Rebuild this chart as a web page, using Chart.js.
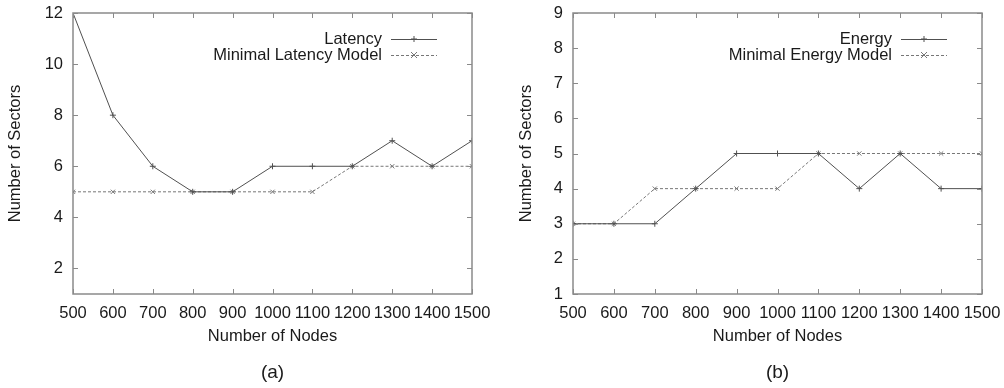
<!DOCTYPE html>
<html>
<head>
<meta charset="utf-8">
<script src="https://cdn.jsdelivr.net/npm/chart.js@4"></script>
<style>
  body { margin: 0; background: #fff; }
  .wrap { position: absolute; top: 0; height: 388px; }
</style>
</head>
<body>
<div class="wrap" style="left:0;width:500px"><canvas id="chartA" width="500" height="388"></canvas></div>
<div class="wrap" style="left:500px;width:504px"><canvas id="chartB" width="504" height="388"></canvas></div>
<script>
// --- data ---
const nodes = [500, 600, 700, 800, 900, 1000, 1100, 1200, 1300, 1400, 1500];
const latency = [12, 8, 6, 5, 5, 6, 6, 6, 7, 6, 7];
const minLatencyModel = [5, 5, 5, 5, 5, 5, 5, 6, 6, 6, 6];
const energy = [3, 3, 3, 4, 5, 5, 5, 4, 5, 4, 4];
const minEnergyModel = [3, 3, 4, 4, 4, 4, 5, 5, 5, 5, 5];
const yTicksA = [2, 4, 6, 8, 10, 12];
const yTicksB = [1, 2, 3, 4, 5, 6, 7, 8, 9];

const FONT = 'Liberation Sans, Arial, Helvetica, sans-serif';
const FS = 16.5;
const TEXT = '#1a1a1a';
const FRAME = '#8a8a8a';

const pts = ys => nodes.map((x, i) => ({ x: x, y: ys[i] }));

// gnuplot-like frame with inward ticks, legend (text left of the sample) and caption
const gnuplotFrame = {
    id: 'gnuplotFrame',
    afterDatasetsDraw(chart, args, opts) {
        const { ctx, chartArea: a, scales } = chart;
        const tl = 5;
        ctx.save();
        ctx.strokeStyle = FRAME;
        ctx.lineWidth = 1.5;
        ctx.strokeRect(a.left, a.top, a.right - a.left, a.bottom - a.top);
        ctx.lineWidth = 1;
        ctx.beginPath();
        scales.x.ticks.forEach(t => {
            const px = Math.round(scales.x.getPixelForValue(t.value)) + 0.5;
            ctx.moveTo(px, a.bottom); ctx.lineTo(px, a.bottom - tl);
            ctx.moveTo(px, a.top); ctx.lineTo(px, a.top + tl);
        });
        scales.y.ticks.forEach(t => {
            const py = Math.round(scales.y.getPixelForValue(t.value)) + 0.5;
            ctx.moveTo(a.left, py); ctx.lineTo(a.left + tl, py);
            ctx.moveTo(a.right, py); ctx.lineTo(a.right - tl, py);
        });
        ctx.stroke();

        // legend
        ctx.font = FS + 'px ' + FONT;
        ctx.textAlign = 'right';
        ctx.textBaseline = 'middle';
        chart.data.datasets.forEach((ds, i) => {
            const y = a.top + 26 + i * 16;
            ctx.fillStyle = TEXT;
            ctx.fillText(ds.label, a.right - 90, y);
            ctx.strokeStyle = ds.borderColor;
            ctx.lineWidth = 1;
            ctx.setLineDash(ds.borderDash || []);
            ctx.beginPath();
            ctx.moveTo(a.right - 81, y + 0.5);
            ctx.lineTo(a.right - 35, y + 0.5);
            ctx.stroke();
            ctx.setLineDash([]);
            const mx = a.right - 58, r = 3;
            ctx.beginPath();
            if (ds.pointStyle === 'cross') {
                ctx.moveTo(mx, y - r); ctx.lineTo(mx, y + r);
                ctx.moveTo(mx - r, y); ctx.lineTo(mx + r, y);
            } else {
                ctx.moveTo(mx - r, y - r); ctx.lineTo(mx + r, y + r);
                ctx.moveTo(mx - r, y + r); ctx.lineTo(mx + r, y - r);
            }
            ctx.stroke();
        });

        // caption under the plot, centred on the plot area
        ctx.textAlign = 'center';
        ctx.font = '19px ' + FONT;
        ctx.fillStyle = TEXT;
        ctx.fillText(opts.caption, (a.left + a.right) / 2, 373);
        ctx.restore();
    }
};

function makeChart(id, series, labels, yMin, yMax, yTicks, caption, yTitlePad, rightPad) {
    new Chart(document.getElementById(id), {
        type: 'line',
        data: {
            datasets: [
                {
                    label: labels[0],
                    data: pts(series[0]),
                    borderColor: '#505050',
                    borderWidth: 1,
                    pointStyle: 'cross',
                    pointRadius: 3,
                    pointBorderColor: '#505050',
                    pointBorderWidth: 1,
                    tension: 0
                },
                {
                    label: labels[1],
                    data: pts(series[1]),
                    borderColor: '#777777',
                    borderWidth: 1,
                    borderDash: [3, 2],
                    pointStyle: 'crossRot',
                    pointRadius: 3,
                    pointBorderColor: '#777777',
                    pointBorderWidth: 1,
                    tension: 0
                }
            ]
        },
        options: {
            responsive: false,
            animation: false,
            layout: { padding: { top: 13, right: rightPad, left: 0, bottom: 0 } },
            plugins: {
                legend: { display: false },
                tooltip: { enabled: false },
                gnuplotFrame: { caption: caption }
            },
            scales: {
                x: {
                    type: 'linear',
                    min: 500,
                    max: 1500,
                    afterBuildTicks: s => { s.ticks = nodes.map(v => ({ value: v })); },
                    afterFit: s => { s.height = 94; s.paddingLeft = 0; s.paddingRight = 0; },
                    grid: { display: false, drawTicks: false },
                    border: { display: false },
                    ticks: {
                        color: TEXT, font: { family: FONT, size: FS }, padding: 10,
                        maxRotation: 0, autoSkip: false,
                        callback: v => String(v)
                    },
                    title: {
                        display: true,
                        text: 'Number of Nodes',
                        color: TEXT,
                        font: { family: FONT, size: FS },
                        padding: { top: 0, bottom: 42 }
                    }
                },
                y: {
                    min: yMin,
                    max: yMax,
                    afterBuildTicks: s => { s.ticks = yTicks.map(v => ({ value: v })); },
                    afterFit: s => { s.width = 73; s.paddingTop = 0; s.paddingBottom = 0; },
                    grid: { display: false, drawTicks: false },
                    border: { display: false },
                    ticks: { color: TEXT, font: { family: FONT, size: FS }, padding: 10 },
                    title: {
                        display: true,
                        text: 'Number of Sectors',
                        color: TEXT,
                        font: { family: FONT, size: FS },
                        padding: { top: yTitlePad, bottom: 0 }
                    }
                }
            }
        },
        plugins: [gnuplotFrame]
    });
}

makeChart('chartA', [latency, minLatencyModel], ['Latency', 'Minimal Latency Model'],
    1, 12, yTicksA, '(a)', 6, 28);
makeChart('chartB', [energy, minEnergyModel], ['Energy', 'Minimal Energy Model'],
    1, 9, yTicksB, '(b)', 17, 22);
</script>
</body>
</html>
